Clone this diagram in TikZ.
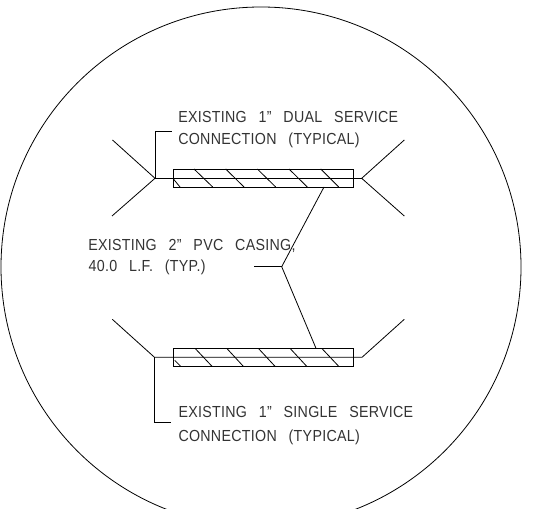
\documentclass[tikz,border=0pt]{standalone}
\usepackage{fontspec}
\newfontfamily\cad[FakeStretch=0.89,LetterSpace=1.8,WordSpace=2.8]{Liberation Sans}
\tikzset{
  x=1pt,y=-1pt,
  ln/.style={draw=black,line width=0.8pt,line cap=butt,line join=miter},
  lbl/.style={anchor=base west,inner sep=0pt,outer sep=0pt,text=black!80,font=\cad\fontsize{16}{16}\selectfont}
}
\begin{document}
\begin{tikzpicture}
\useasboundingbox (0,0) rectangle (553,508);
\begin{scope}
\clip (0,0) rectangle (553,508);
\node[ln,circle,minimum size=520pt,inner sep=0pt,outer sep=0pt] (detail) at (261,267) {};
\end{scope}
% upper service
\coordinate (ul) at (155,178.3);
\coordinate (ur) at (361.7,178.3);
\coordinate (ulA) at (112.5,140);
\coordinate (ulB) at (112,216);
\coordinate (urA) at (404.3,140);
\coordinate (urB) at (404.3,216);
\coordinate (ubk) at (155,131);
\coordinate (ubkE) at (171.7,131);
\draw[ln] (ulA) -- (ul) -- (ulB);
\draw[ln] (urA) -- (ur) -- (urB);
\draw[ln] (ul) -- (ur);
\draw[ln] (ubkE) -- (ubk) -- (ul);
\node[ln,rectangle,minimum width=179.6pt,minimum height=18pt,inner sep=0pt,outer sep=0pt] (casingU) at (263.5,178) {};
\foreach \t/\b in {194/212.7,225.7/244,257.3/275.7,289/307.3,320.7/338.7}
  \draw[ln] (\t,169) -- (\b,187);
\draw[ln] (173.7,179.3) -- (180,187);
% lower service
\coordinate (ll) at (154.5,357.3);
\coordinate (lr) at (362,357.3);
\coordinate (llA) at (112.3,319.3);
\coordinate (lrA) at (404.3,319.3);
\coordinate (lbk) at (154.5,422.5);
\coordinate (lbkE) at (171.4,422.5);
\draw[ln] (llA) -- (ll) -- (lr) -- (lrA);
\draw[ln] (ll) -- (lbk) -- (lbkE);
\node[ln,rectangle,minimum width=179.6pt,minimum height=18pt,inner sep=0pt,outer sep=0pt] (casingL) at (263.5,357.3) {};
\foreach \t/\b in {195/212,226.7/243.3,258.3/275,290/306.7,321.7/338.7}
  \draw[ln] (\t,348.3) -- (\b,366.3);
\draw[ln] (174.7,360.3) -- (180.7,366.3);
% casing leader
\coordinate (hub) at (281.7,266.7);
\coordinate (hubL) at (254,266.7);
\coordinate (hubU) at (324,187);
\coordinate (hubD) at (316,348.3);
\draw[ln] (hubL) -- (hub);
\draw[ln] (hubU) -- (hub) -- (hubD);
% labels
\node[lbl] (t1) at (178.3,122) {EXISTING 1” DUAL SERVICE};
\node[lbl] (t2) at (178.3,144.3) {CONNECTION (TYPICAL)};
\node[lbl] (t3) at (88.3,250) {EXISTING 2” PVC CASING,};
\node[lbl] (t4) at (88.7,271.7) {40.0 L.F. (TYP.)};
\node[lbl] (t5) at (178.5,417.5) {EXISTING 1” SINGLE SERVICE};
\node[lbl] (t6) at (178.5,441) {CONNECTION (TYPICAL)};
\end{tikzpicture}
\end{document}
